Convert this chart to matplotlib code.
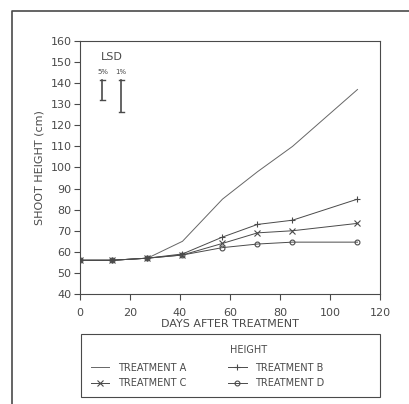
import numpy as np
import matplotlib
matplotlib.use('Agg')
import matplotlib.pyplot as plt
from matplotlib.patches import Rectangle
from matplotlib.lines import Line2D

# days after treatment
days = [0, 13, 27, 41, 57, 71, 85, 111]

# shoot height (cm)
treat_a = [56, 56, 57, 65, 85, 98, 110, 137]
treat_b = [56, 56, 57, 59, 67, 73, 75, 85]
treat_c = [56, 56, 57, 58.5, 64, 69, 70, 73.5]
treat_d = [56, 56, 57, 58.5, 62, 63.7, 64.6, 64.6]

# LSD bars (day position, low, high)
lsd_labels = ['5%', '1%']
lsd_x = [9, 16.5]
lsd_low = [132, 126.5]
lsd_high = [141.5, 141.5]

col = '#4a4a4a'
plt.rcParams['font.family'] = ['DejaVu Sans']

fig = plt.figure(figsize=(4.10, 4.04), dpi=100)
ax = fig.add_axes([80 / 410, 1 - 294 / 404, 300 / 410, 253 / 404])

la, = ax.plot(days, treat_a, color='#666666', lw=0.7)
lb, = ax.plot(days, treat_b, color=col, lw=0.7, marker='+', ms=5, mew=0.8)
lc, = ax.plot(days, treat_c, color=col, lw=0.7, marker='x', ms=4, mew=0.8)
ld, = ax.plot(days, treat_d, color=col, lw=0.7, marker='o', ms=3.5, mfc='none', mew=0.8)

# LSD error bars
for x, lo, hi, lab in zip(lsd_x, lsd_low, lsd_high, lsd_labels):
    ax.plot([x, x], [lo, hi], color=col, lw=1.2)
    ax.plot([x - 1, x + 1], [lo, lo], color=col, lw=1.0)
    ax.plot([x - 1, x + 1], [hi, hi], color=col, lw=1.0)
    ax.text(x, hi + 2.5, lab, fontsize=5, ha='center', va='bottom', color=col)
ax.text(np.mean(lsd_x), 150, 'LSD', fontsize=8, ha='center', va='bottom', color=col)

ax.set_xlim(0, 120)
ax.set_ylim(40, 160)
ax.set_xticks(np.arange(0, 121, 20))
ax.set_yticks(np.arange(40, 161, 10))
ax.tick_params(direction='out', length=4, width=0.8, colors=col, labelsize=8, pad=2)
ax.tick_params(axis='x', pad=6)
for s in ax.spines.values():
    s.set_color(col)
    s.set_linewidth(0.8)
ax.set_xlabel('DAYS AFTER TREATMENT', fontsize=8, color=col, labelpad=1)
ax.set_ylabel('SHOOT HEIGHT (cm)', fontsize=8, color=col, labelpad=4)

# legend
leg = fig.legend([la, lc, lb, ld], ['TREATMENT A', 'TREATMENT C', 'TREATMENT B', 'TREATMENT D'],
                 ncol=2, loc='upper left',
                 bbox_to_anchor=(82 / 410, 1 - 354 / 404), frameon=False, fontsize=7,
                 handlelength=1.9, labelspacing=0.55, handletextpad=0.9, columnspacing=4.3)
for t in leg.get_texts():
    t.set_color(col)
fig.text(230 / 410, 1 - 350 / 404, 'HEIGHT', fontsize=7, color=col, ha='left', va='center')
fig.patches.append(Rectangle((81 / 410, 1 - 397 / 404), 299 / 410, 63 / 404, transform=fig.transFigure,
                             fill=False, edgecolor=col, lw=0.8))

# outer frame (only top and left visible)
fig.lines.append(Line2D([12 / 410, 12 / 410, 1.05], [0, 1 - 11 / 404, 1 - 11 / 404],
                        transform=fig.transFigure, color=col, lw=1.2))

plt.savefig('out.png', dpi=100)
